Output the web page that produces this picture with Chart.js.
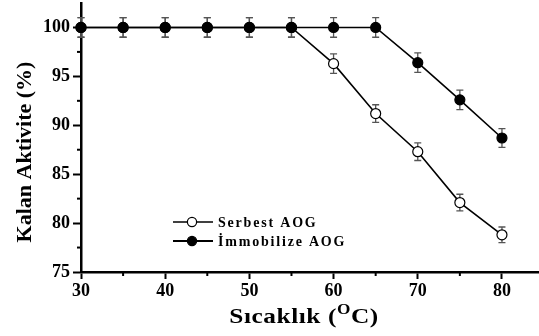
<!DOCTYPE html>
<html><head><meta charset="utf-8">
<script src="https://cdn.jsdelivr.net/npm/chart.js@4.4.1/dist/chart.umd.min.js"></script>
<style>html,body{margin:0;padding:0;background:#fff}canvas{display:block}</style>
</head><body>
<canvas id="c" width="539" height="336"></canvas>
<script>
const temps = [30, 35, 40, 45, 50, 55, 60, 65, 70, 75, 80];
const serbest = [100, 100, 100, 100, 100, 100, 96.3, 91.2, 87.3, 82.1, 78.8];
const serbestErr = [1, 1, 1, 1, 1, 1, 1, 0.9, 0.9, 0.85, 0.8];
const immobilize = [100, 100, 100, 100, 100, 100, 100, 100, 96.4, 92.6, 88.7];
const immobilizeErr = [1, 1, 1, 1, 1, 1, 1, 1, 1, 1, 0.95];
const xTickValues = [30, 40, 50, 60, 70, 80];
const xMinorTicks = [35, 45, 55, 65, 75];
const yTickValues = [75, 80, 85, 90, 95, 100];
const yMinorTicks = [77.5, 82.5, 87.5, 92.5, 97.5];
const seriesNames = ['Serbest AOG', 'İmmobilize AOG'];
const xTitle = ['Sıcaklık (', 'O', 'C)'];
const yTitle = 'Kalan Aktivite (%)';

const SERIF = "'Liberation Serif', 'Times New Roman', serif";

const toPts = ys => temps.map((t, i) => ({x: t, y: ys[i]}));

const extras = {
  id: 'extras',
  beforeDatasetsDraw(chart) {
    const ctx = chart.ctx, xs = chart.scales.x, ys = chart.scales.y;
    ctx.save();
    ctx.strokeStyle = '#555';
    ctx.lineWidth = 1.3;
    chart.data.datasets.forEach(ds => {
      ds.data.forEach((p, i) => {
        const e = ds.errors[i];
        const px = xs.getPixelForValue(p.x);
        const top = ys.getPixelForValue(p.y + e);
        const bot = ys.getPixelForValue(p.y - e);
        ctx.beginPath();
        ctx.moveTo(px, top); ctx.lineTo(px, bot);
        ctx.moveTo(px - 3.5, top); ctx.lineTo(px + 3.5, top);
        ctx.moveTo(px - 3.5, bot); ctx.lineTo(px + 3.5, bot);
        ctx.stroke();
      });
    });
    ctx.restore();
  },
  afterDraw(chart) {
    const ctx = chart.ctx, xs = chart.scales.x, ys = chart.scales.y, a = chart.chartArea;
    ctx.save();
    // minor ticks
    ctx.strokeStyle = '#000';
    ctx.lineWidth = 2;
    xMinorTicks.forEach(v => {
      const px = xs.getPixelForValue(v);
      ctx.beginPath(); ctx.moveTo(px, a.bottom); ctx.lineTo(px, a.bottom + 4); ctx.stroke();
    });
    yMinorTicks.forEach(v => {
      const py = ys.getPixelForValue(v);
      ctx.beginPath(); ctx.moveTo(a.left, py); ctx.lineTo(a.left - 4, py); ctx.stroke();
    });
    // y title
    ctx.fillStyle = '#000';
    ctx.font = 'bold 22px ' + SERIF;
    ctx.textAlign = 'center';
    ctx.textBaseline = 'middle';
    ctx.save();
    ctx.translate(25, 152);
    ctx.rotate(-Math.PI / 2);
    ctx.fillText(yTitle, 0, 0);
    ctx.restore();
    // x title with superscript
    ctx.save();
    ctx.textAlign = 'left';
    ctx.textBaseline = 'alphabetic';
    ctx.letterSpacing = '0.5px';
    const sx = 1.15;
    const f1 = 'bold 22px ' + SERIF, f2 = 'bold 15px ' + SERIF;
    ctx.font = f1; const w1 = ctx.measureText(xTitle[0]).width, w3 = ctx.measureText(xTitle[2]).width;
    ctx.font = f2; const w2 = ctx.measureText(xTitle[1]).width;
    const total = (w1 + w2 + w3) * sx;
    ctx.translate(304 - total / 2, 323);
    ctx.scale(sx, 1);
    ctx.font = f1; ctx.fillText(xTitle[0], 0, 0);
    ctx.font = f2; ctx.fillText(xTitle[1], w1, -9);
    ctx.font = f1; ctx.fillText(xTitle[2], w1 + w2, 0);
    ctx.restore();
    // legend
    const rows = [{y: 222, fill: '#fff', lw: 1.5}, {y: 241, fill: '#000', lw: 2}];
    ctx.font = 'bold 14px ' + SERIF;
    ctx.letterSpacing = '1.8px';
    ctx.textBaseline = 'middle';
    ctx.textAlign = 'left';
    rows.forEach((r, i) => {
      ctx.strokeStyle = '#000';
      ctx.lineWidth = r.lw;
      ctx.beginPath(); ctx.moveTo(173, r.y); ctx.lineTo(213, r.y); ctx.stroke();
      ctx.beginPath(); ctx.arc(192, r.y, 4.6, 0, Math.PI * 2);
      ctx.fillStyle = r.fill; ctx.fill();
      ctx.lineWidth = 1.2; ctx.stroke();
      ctx.fillStyle = '#000';
      ctx.fillText(seriesNames[i], 218, r.y + 1);
    });
    ctx.restore();
  }
};

new Chart(document.getElementById('c'), {
  type: 'line',
  data: {
    datasets: [
      {
        label: seriesNames[1],
        data: toPts(immobilize),
        errors: immobilizeErr,
        clip: false,
        borderColor: '#000', borderWidth: 1.6,
        pointRadius: 5, pointBackgroundColor: '#000', pointBorderColor: '#000', pointBorderWidth: 1.2,
        tension: 0
      },
      {
        label: seriesNames[0],
        data: toPts(serbest),
        errors: serbestErr,
        clip: false,
        borderColor: '#000', borderWidth: 1.6,
        pointRadius: 5, pointBackgroundColor: '#fff', pointBorderColor: '#000', pointBorderWidth: 1.2,
        tension: 0
      }
    ]
  },
  options: {
    responsive: false,
    animation: false,
    devicePixelRatio: 1,
    layout: {autoPadding: false, padding: {top: 3, right: 0, left: 0, bottom: 0}},
    plugins: {legend: {display: false}, tooltip: {enabled: false}},
    scales: {
      x: {
        type: 'linear', min: 30, max: 84.4,
        afterBuildTicks: s => { s.ticks = xTickValues.map(v => ({value: v})); },
        afterFit: s => { s.height = 64; s.paddingLeft = 0; s.paddingRight = 0; },
        ticks: {color: '#000', font: {family: SERIF, size: 18, weight: 'bold'}, padding: 2, maxRotation: 0},
        grid: {drawOnChartArea: false, drawTicks: true, tickLength: 7, tickWidth: 2, tickColor: '#000'},
        border: {display: true, color: '#000', width: 2.5}
      },
      y: {
        type: 'linear', min: 75, max: 102.5,
        afterBuildTicks: s => { s.ticks = yTickValues.map(v => ({value: v})); },
        afterFit: s => { s.width = 81; s.paddingTop = 0; s.paddingBottom = 0; },
        ticks: {color: '#000', font: {family: SERIF, size: 18, weight: 'bold'}, padding: 3},
        grid: {drawOnChartArea: false, drawTicks: true, tickLength: 8, tickWidth: 2, tickColor: '#000'},
        border: {display: true, color: '#000', width: 2.5}
      }
    }
  },
  plugins: [extras]
});
</script>
</body></html>
